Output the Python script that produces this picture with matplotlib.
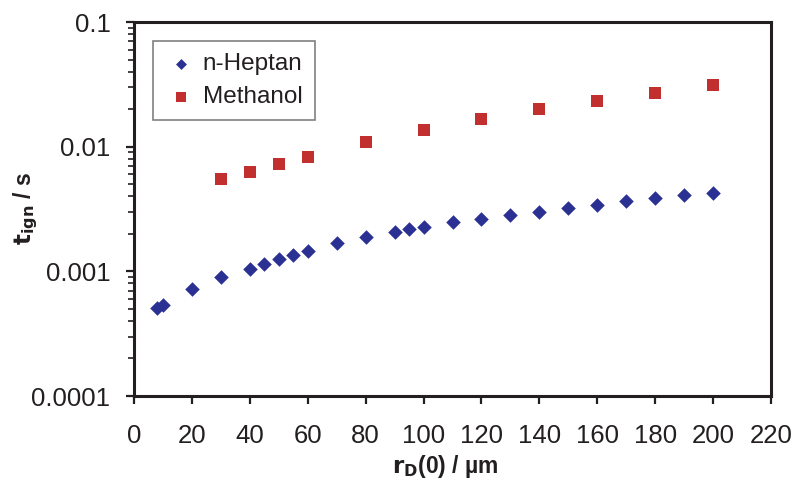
import matplotlib
matplotlib.use("Agg")
import matplotlib.pyplot as plt
from matplotlib.ticker import LogLocator, NullFormatter, FixedLocator, FixedFormatter

plt.rcParams['font.family'] = ['Liberation Sans', 'DejaVu Sans']

heptan_x = [8, 10, 20, 30, 40, 45, 50, 55, 60, 70, 80, 90, 95, 100, 110, 120, 130, 140, 150, 160, 170, 180, 190, 200]
heptan_y = [5.05e-4, 5.4e-4, 7.25e-4, 9.05e-4, 1.04e-3, 1.15e-3, 1.26e-3, 1.36e-3, 1.46e-3, 1.69e-3, 1.88e-3,
            2.08e-3, 2.18e-3, 2.28e-3, 2.47e-3, 2.63e-3, 2.81e-3, 2.99e-3, 3.22e-3, 3.42e-3, 3.64e-3, 3.87e-3,
            4.09e-3, 4.27e-3]
methanol_x = [30, 40, 50, 60, 80, 100, 120, 140, 160, 180, 200]
methanol_y = [5.47e-3, 6.25e-3, 7.21e-3, 8.3e-3, 1.08e-2, 1.36e-2, 1.66e-2, 1.99e-2, 2.33e-2, 2.70e-2, 3.10e-2]

x_ticks = list(range(0, 221, 20))
y_ticks = [1e-4, 1e-3, 1e-2, 1e-1]
y_tick_labels = ["0.0001", "0.001", "0.01", "0.1"]

blue = '#2B3192'
red = '#C1302E'
ink = '#231F20'

fig = plt.figure(figsize=(7.95, 4.84), dpi=100)
ax = fig.add_axes([134/795, 1-396/484, (771-134)/795, (396-22)/484])

ax.scatter(heptan_x, heptan_y, marker='D', s=55, color=blue, linewidths=0, label='n-Heptan', zorder=3)
ax.scatter(methanol_x, methanol_y, marker='s', s=80, color=red, linewidths=0, label='Methanol', zorder=3)

ax.set_yscale('log')
ax.set_xlim(0, 220)
ax.set_ylim(1e-4, 1e-1)
ax.xaxis.set_major_locator(FixedLocator(x_ticks))
ax.yaxis.set_major_locator(FixedLocator(y_ticks))
ax.yaxis.set_major_formatter(FixedFormatter(y_tick_labels))
ax.yaxis.set_minor_locator(LogLocator(base=10, subs=range(2, 10)))
ax.yaxis.set_minor_formatter(NullFormatter())

for s in ax.spines.values():
    s.set_linewidth(2.2)
    s.set_color(ink)

ax.tick_params(axis='both', which='major', direction='out', length=6, width=1.6,
               labelsize=18.5, colors=ink)
ax.tick_params(axis='y', which='major', pad=11)
ax.tick_params(axis='y', which='minor', direction='out', length=4, width=1.2, colors=ink)
ax.tick_params(axis='x', pad=14)

ax.set_xlabel(r'$\mathbf{r_D}$(0) / µm', fontsize=16.5, fontweight='bold', color=ink)
ax.xaxis.set_label_coords(0.489, -0.152)
ax.set_ylabel(r'$\mathbf{t_{ign}}$ / s', fontsize=16.5, fontweight='bold', color=ink)
ax.yaxis.set_label_coords(-0.147, 0.5)

leg = ax.legend(loc='upper left', bbox_to_anchor=((153-134)/637, 1-(41-22)/374),
                fontsize=17.5, frameon=True, fancybox=False, shadow=False,
                borderpad=0.5, handletextpad=0.25, labelspacing=0.45, markerscale=0.75,
                handlelength=1.3, borderaxespad=0)
leg.get_frame().set_edgecolor('#808080')
leg.get_frame().set_linewidth(1.2)
leg.get_frame().set_alpha(1)
for t in leg.get_texts():
    t.set_color(ink)

fig.savefig('out.png', dpi=100)
